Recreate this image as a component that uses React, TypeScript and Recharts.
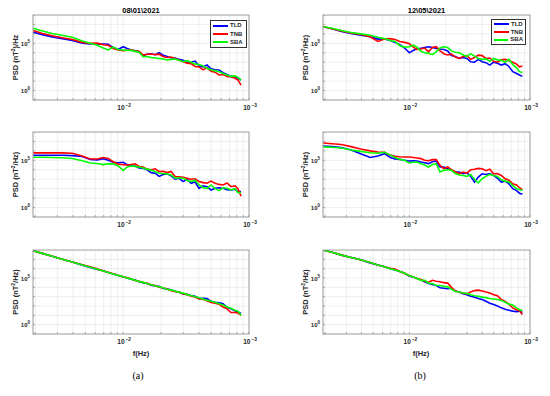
import React from 'react';
import { LineChart, Line, XAxis, YAxis, CartesianGrid, Legend } from 'recharts';

// ---------- data ----------
const FREQ = [0.00193, 0.00228, 0.00273, 0.00328, 0.00394, 0.00473, 0.00547, 0.00622, 0.00694, 0.0076,
  0.00833, 0.00913, 0.01, 0.01076, 0.01157, 0.01245, 0.01339, 0.01441, 0.0155, 0.01668,
  0.01794, 0.0193, 0.02076, 0.02234, 0.02403, 0.02586, 0.02782, 0.02993, 0.0322, 0.03464,
  0.03727, 0.0401, 0.04314, 0.04641, 0.04993, 0.05371, 0.05779, 0.06217, 0.06689, 0.07196,
  0.07741, 0.08181, 0.08646];

const SERIES = ['TLD', 'TNB', 'SBA'];
const COLORS = ['#0000ff', '#ff0000', '#00ff00'];

// log10 of PSD values, panel (a) row 1
const A1_TLD = [6.18, 5.92, 5.68, 5.5, 5.3, 5.0, 4.93, 4.93, 4.93, 4.9, 4.55, 4.35, 4.64, 4.45, 4.3, 4.2, 4.1, 3.7, 3.85, 3.9, 3.8, 4.0, 3.75, 3.6, 3.45, 3.45, 3.3, 3.2, 2.95, 3.0, 3.12, 2.6, 2.5, 2.7, 2.3, 2.2, 2.17, 1.9, 1.7, 1.5, 1.45, 1.3, 1.1];
const A1_TNB = [6.36, 6.05, 5.8, 5.6, 5.4, 5.1, 5.0, 5.02, 4.85, 4.8, 4.45, 4.3, 4.22, 4.28, 4.3, 4.2, 4.15, 3.76, 3.85, 3.87, 3.8, 3.85, 3.6, 3.5, 3.55, 3.4, 3.2, 3.05, 2.9, 2.85, 2.55, 2.5, 2.2, 2.4, 2.05, 1.95, 1.65, 1.7, 1.5, 1.45, 1.3, 1.1, 0.58];
const A1_SBA = [6.6, 6.3, 6.05, 5.85, 5.65, 5.25, 5.0, 4.8, 4.5, 4.3, 4.6, 4.35, 4.29, 4.25, 4.25, 4.15, 4.05, 3.58, 3.6, 3.5, 3.45, 3.4, 3.35, 3.23, 3.3, 3.34, 3.2, 3.05, 3.16, 3.0, 2.8, 2.75, 2.6, 2.35, 2.2, 2.1, 2.0, 1.8, 1.64, 1.5, 1.55, 1.4, 1.11];

// panel (b) row 1
const B1_TLD = [6.76, 6.55, 6.25, 6.05, 5.85, 5.7, 5.45, 5.45, 5.3, 5.1, 4.85, 4.5, 4.0, 4.25, 4.45, 4.47, 4.55, 4.64, 4.55, 4.47, 4.4, 4.35, 4.2, 3.7, 3.6, 3.4, 3.5, 3.4, 3.05, 3.0, 3.3, 3.05, 2.95, 2.7, 3.0, 2.9, 2.7, 2.85, 2.55, 2.0, 1.8, 1.64, 1.5];
const B1_TNB = [6.76, 6.55, 6.3, 6.1, 5.95, 5.7, 5.2, 5.45, 5.5, 5.4, 5.2, 5.1, 4.95, 4.6, 4.35, 4.4, 4.5, 4.1, 4.55, 4.64, 4.2, 3.9, 3.76, 3.85, 3.55, 3.41, 3.6, 3.7, 3.3, 3.5, 3.75, 3.7, 3.4, 3.45, 3.1, 3.0, 3.25, 3.3, 3.15, 3.0, 2.8, 2.5, 2.6];
const B1_SBA = [6.76, 6.6, 6.35, 6.15, 6.0, 5.85, 5.65, 5.5, 5.3, 5.2, 4.75, 4.6, 4.64, 4.8, 4.6, 4.15, 4.0, 3.94, 3.8, 4.1, 4.5, 4.64, 4.55, 4.2, 4.05, 4.0, 3.8, 3.6, 3.9, 3.65, 3.4, 3.3, 3.35, 3.1, 3.4, 3.25, 3.2, 3.0, 3.3, 2.75, 2.4, 2.0, 1.9];

// panel (a) row 2
const A2_TLD = [5.54, 5.54, 5.54, 5.54, 5.5, 5.4, 5.1, 5.05, 5.18, 5.0, 4.8, 4.75, 4.79, 4.55, 4.4, 4.4, 4.2, 4.15, 4.0, 3.7, 3.64, 3.3, 3.5, 3.57, 3.36, 3.0, 3.1, 2.75, 3.0, 2.57, 2.7, 2.04, 2.3, 2.21, 1.86, 2.04, 2.1, 2.04, 1.9, 1.86, 1.95, 1.68, 1.7];
const A2_TNB = [5.79, 5.79, 5.79, 5.79, 5.75, 5.45, 5.14, 5.14, 5.3, 5.2, 4.85, 4.6, 4.54, 4.5, 4.55, 4.64, 4.35, 4.3, 4.07, 4.0, 4.1, 3.82, 3.85, 3.7, 3.82, 3.29, 3.25, 3.21, 3.11, 3.0, 3.05, 2.75, 2.64, 2.57, 2.8, 2.57, 2.45, 2.39, 2.6, 2.21, 2.3, 2.0, 1.2];
const A2_SBA = [5.32, 5.32, 5.3, 5.27, 5.2, 4.95, 4.72, 4.66, 4.55, 4.62, 4.64, 4.4, 3.93, 4.3, 4.4, 4.36, 4.3, 4.18, 4.07, 3.95, 3.82, 3.64, 3.6, 3.57, 3.46, 3.11, 3.15, 3.11, 2.86, 2.75, 2.9, 2.39, 2.1, 2.04, 2.39, 2.0, 1.79, 2.1, 2.04, 1.86, 2.0, 1.57, 1.6];

// panel (b) row 2
const B2_TLD = [6.52, 6.45, 6.35, 6.1, 5.7, 5.3, 5.45, 5.71, 5.3, 5.15, 5.1, 5.0, 4.93, 4.95, 4.93, 4.82, 4.75, 4.65, 4.85, 4.93, 4.29, 4.29, 4.1, 3.94, 3.76, 3.76, 3.58, 3.7, 3.3, 2.7, 3.23, 3.58, 3.5, 3.6, 3.4, 3.1, 2.7, 2.8, 2.52, 2.0, 1.8, 1.52, 1.4];
const B2_TNB = [6.84, 6.76, 6.67, 6.45, 6.2, 6.0, 5.89, 5.85, 5.55, 5.43, 5.38, 5.35, 5.35, 5.3, 5.25, 5.18, 5.0, 4.95, 5.07, 5.07, 4.47, 4.11, 4.3, 4.01, 3.8, 3.58, 3.76, 3.65, 4.0, 4.05, 4.15, 4.11, 3.9, 4.05, 3.58, 3.6, 3.4, 3.05, 2.9, 2.52, 2.4, 2.1, 1.9];
const B2_SBA = [6.42, 6.38, 6.3, 6.1, 5.95, 5.8, 5.75, 5.85, 5.55, 5.3, 5.1, 5.0, 4.72, 4.8, 4.82, 4.65, 4.5, 4.29, 4.55, 4.65, 3.76, 3.94, 4.0, 3.94, 3.6, 3.45, 3.4, 3.3, 3.5, 3.0, 2.62, 3.05, 3.3, 3.51, 3.4, 3.3, 2.94, 2.8, 2.7, 2.34, 2.0, 1.9, 1.8];

// panel (a) row 3
const A3_TLD = [7.92, 7.64, 7.33, 7.02, 6.71, 6.38, 6.12, 5.92, 5.78, 5.6, 5.44, 5.26, 5.13, 5.0, 4.86, 4.78, 4.6, 4.5, 4.42, 4.22, 4.15, 4.1, 3.88, 3.82, 3.74, 3.55, 3.5, 3.3, 3.25, 3.12, 3.05, 2.8, 2.82, 2.8, 2.5, 2.4, 2.35, 2.25, 1.85, 1.7, 1.5, 1.35, 1.2];
const A3_TNB = [7.92, 7.64, 7.33, 7.02, 6.72, 6.42, 6.2, 5.98, 5.75, 5.62, 5.46, 5.3, 5.12, 5.02, 4.9, 4.74, 4.66, 4.52, 4.44, 4.27, 4.2, 4.02, 3.92, 3.85, 3.64, 3.57, 3.5, 3.3, 3.22, 3.05, 2.97, 2.75, 2.72, 2.55, 2.38, 2.3, 2.2, 1.9, 1.7, 1.3, 1.3, 1.25, 1.0];
const A3_SBA = [7.92, 7.64, 7.33, 7.02, 6.71, 6.4, 6.15, 5.94, 5.75, 5.6, 5.44, 5.28, 5.14, 5.0, 4.88, 4.76, 4.63, 4.53, 4.4, 4.28, 4.15, 4.06, 3.93, 3.8, 3.7, 3.6, 3.46, 3.38, 3.22, 3.12, 2.98, 2.88, 2.74, 2.62, 2.5, 2.4, 2.25, 2.1, 1.9, 1.75, 1.55, 1.45, 1.0];

// panel (b) row 3
const B3_TLD = [8.0, 7.75, 7.45, 7.2, 6.95, 6.6, 6.4, 6.2, 6.0, 5.85, 5.7, 5.5, 5.2, 5.1, 4.95, 4.8, 4.6, 4.4, 4.3, 4.2, 3.95, 3.9, 3.85, 3.9, 3.6, 3.5, 3.3, 3.2, 3.05, 2.95, 2.8, 2.7, 2.5, 2.3, 2.15, 2.0, 1.8, 1.65, 1.55, 1.45, 1.4, 1.45, 1.3];
const B3_TNB = [8.0, 7.75, 7.45, 7.2, 6.95, 6.65, 6.4, 6.2, 6.05, 5.95, 5.7, 5.5, 5.25, 5.1, 4.95, 4.85, 4.65, 4.55, 4.75, 4.65, 4.6, 4.5, 4.45, 4.0, 3.6, 3.5, 3.4, 3.3, 3.5, 3.65, 3.7, 3.6, 3.5, 3.4, 3.2, 3.1, 2.7, 2.5, 2.2, 1.8, 1.6, 1.5, 1.1];
const B3_SBA = [8.0, 7.75, 7.45, 7.2, 6.95, 6.65, 6.4, 6.2, 6.0, 5.85, 5.7, 5.5, 5.25, 5.1, 4.95, 4.75, 4.75, 4.45, 4.4, 4.2, 4.2, 4.1, 4.05, 3.8, 3.55, 3.5, 3.4, 3.35, 3.2, 3.1, 3.05, 2.95, 2.9, 2.8, 2.75, 2.7, 2.6, 2.4, 2.2, 2.1, 1.8, 1.6, 1.5];

// axes
const X_DOMAIN = [0.00192, 0.1];
const Y_DOMAIN = [0.1, 1e8];
const X_TICKS = [0.002, 0.003, 0.004, 0.005, 0.006, 0.007, 0.008, 0.009, 0.01, 0.02, 0.03, 0.04, 0.05, 0.06, 0.07, 0.08, 0.09, 0.1];
const Y_TICKS = [0.1, 1, 10, 100, 1000, 1e4, 1e5, 1e6, 1e7, 1e8];
const X_TICK_LABELS = [{ v: 0.01, base: '10', exp: '−2' }, { v: 0.1, base: '10', exp: '−3' }];
const Y_TICK_LABELS = [{ v: 1, base: '10', exp: '0' }, { v: 1e5, base: '10', exp: '5' }];
const TITLES = ['08\\01\\2021', '12\\05\\2021'];
const PANEL_TAGS = ['(a)', '(b)'];

// ---------- layout ----------
const YW = 33;
const RM = 14;
const XH = 14;
const FONT = '"Liberation Sans", Arial, Helvetica, sans-serif';
const INK = '#262626';

const XTick = (props: any) => {
  const { x, y, payload } = props;
  const lab = X_TICK_LABELS.find((t) => t.v === payload.value);
  return (
    <g>
      <line x1={x} x2={x} y1={y} y2={y - 2} stroke="#8c8c8c" strokeWidth={0.7} />
      {lab && (
        <text x={x + 1} y={y + 10} textAnchor="middle" fontSize={6.5} fontWeight="bold" fill={INK}>
          <tspan>{lab.base}</tspan>
          <tspan dx={1} dy={-3} fontSize={4.8}>{lab.exp}</tspan>
        </text>
      )}
    </g>
  );
};

const YTick = (props: any) => {
  const { x, y, payload } = props;
  const lab = Y_TICK_LABELS.find((t) => t.v === payload.value);
  return (
    <g>
      <line x1={x} x2={x + 2} y1={y} y2={y} stroke="#8c8c8c" strokeWidth={0.7} />
      {lab && (
        <text x={x - 3} y={y + 2.5} textAnchor="end" fontSize={6} fontWeight="bold" fill={INK}>
          <tspan>{lab.base}</tspan>
          <tspan dy={-3} fontSize={4.5}>{lab.exp}</tspan>
        </text>
      )}
    </g>
  );
};

const LegendBox = ({ width, height }: { width: number; height: number }) => (
  <div
    style={{
      width,
      height,
      boxSizing: 'border-box',
      border: '0.8px solid #333',
      background: '#fff',
      display: 'flex',
      flexDirection: 'column',
      justifyContent: 'space-evenly',
      padding: '0 2px',
      fontFamily: FONT,
    }}
  >
    {SERIES.map((s, i) => (
      <div key={s} style={{ display: 'flex', alignItems: 'center', height: 7 }}>
        <svg width={15} height={4} style={{ display: 'block' }}>
          <line x1={0} x2={15} y1={2} y2={2} stroke={COLORS[i]} strokeWidth={2} />
        </svg>
        <span style={{ fontSize: 6, fontWeight: 'bold', color: INK, marginLeft: 2, lineHeight: '7px' }}>{s}</span>
      </div>
    ))}
  </div>
);

type PanelProps = {
  left: number;
  top: number;
  w: number;
  h: number;
  values: number[][];
  legend?: { left: number; top: number; width: number; height: number };
};

function Panel({ left, top, w, h, values, legend }: PanelProps) {
  const data = FREQ.map((f, i) => ({
    f,
    TLD: Math.pow(10, values[0][i]),
    TNB: Math.pow(10, values[1][i]),
    SBA: Math.pow(10, values[2][i]),
  }));
  const cw = YW + w + RM;
  const ch = h + XH;
  return (
    <div style={{ position: 'absolute', left: left - YW, top, width: cw, height: ch }}>
      <LineChart width={cw} height={ch} data={data} margin={{ top: 0, right: RM, bottom: 0, left: 0 }}>
        <CartesianGrid stroke="#e8e8e8" strokeWidth={0.7} />
        <XAxis
          dataKey="f"
          type="number"
          scale="log"
          domain={X_DOMAIN}
          allowDataOverflow
          ticks={X_TICKS}
          interval={0}
          tickSize={0}
          tickMargin={0}
          axisLine={false}
          tickLine={false}
          height={XH}
          tick={(p: any) => <XTick {...p} />}
        />
        <YAxis
          type="number"
          scale="log"
          domain={Y_DOMAIN}
          allowDataOverflow
          ticks={Y_TICKS}
          interval={0}
          tickSize={0}
          tickMargin={0}
          axisLine={false}
          tickLine={false}
          width={YW}
          tick={(p: any) => <YTick {...p} />}
        />
        {SERIES.map((s, i) => (
          <Line
            key={s}
            type="linear"
            dataKey={s}
            stroke={COLORS[i]}
            strokeWidth={1.6}
            dot={false}
            isAnimationActive={false}
          />
        ))}
        {legend && (
          <Legend
            layout="vertical"
            align="center"
            verticalAlign="middle"
            wrapperStyle={{ position: 'absolute', left: legend.left, top: legend.top, width: legend.width, height: legend.height }}
            content={() => <LegendBox width={legend.width} height={legend.height} />}
          />
        )}
      </LineChart>
    </div>
  );
}

const COLS = [
  { left: 33, w: 216, labelX: 15, tagX: 138, xlabX: 141 },
  { left: 323, w: 207, labelX: 305, tagX: 420, xlabX: 421 },
];
const ROWS = [
  { top: 15, h: 85 },
  { top: 132, h: 85 },
  { top: 250, h: 84 },
];

export default function App() {
  const grid = [
    [[A1_TLD, A1_TNB, A1_SBA], [B1_TLD, B1_TNB, B1_SBA]],
    [[A2_TLD, A2_TNB, A2_SBA], [B2_TLD, B2_TNB, B2_SBA]],
    [[A3_TLD, A3_TNB, A3_SBA], [B3_TLD, B3_TNB, B3_SBA]],
  ];
  const legends = [
    { left: 210, top: 5, width: 37, height: 28 },
    { left: 201, top: 4, width: 35, height: 26 },
  ];
  return (
    <div
      style={{
        position: 'absolute',
        left: 0,
        top: 0,
        width: 550,
        height: 396,
        background: '#fff',
        fontFamily: FONT,
        overflow: 'hidden',
      }}
    >
      {ROWS.map((r, ri) =>
        COLS.map((c, ci) => (
          <Panel
            key={`${ri}-${ci}`}
            left={c.left}
            top={r.top}
            w={c.w}
            h={r.h}
            values={grid[ri][ci]}
            legend={ri === 0 ? legends[ci] : undefined}
          />
        ))
      )}
      <svg width={550} height={396} style={{ position: 'absolute', left: 0, top: 0, pointerEvents: 'none' }}>
        {ROWS.map((r, ri) =>
          COLS.map((c, ci) => (
            <rect key={`f${ri}-${ci}`} x={c.left} y={r.top} width={c.w} height={r.h} fill="none" stroke="#8c8c8c" strokeWidth={0.8} />
          ))
        )}
        {COLS.map((c, ci) => (
          <text key={`t${ci}`} x={c.left + c.w / 2} y={12.5} textAnchor="middle" fontSize={7.5} fontWeight="bold" fill="#000">
            {TITLES[ci]}
          </text>
        ))}
        {ROWS.map((r, ri) =>
          COLS.map((c, ci) => {
            const cy = r.top + r.h / 2;
            const first = ri === 0 && ci === 0;
            return (
              <text
                key={`y${ri}-${ci}`}
                transform={`translate(${c.labelX + 2.5},${cy}) rotate(-90)`}
                textAnchor="middle"
                fontSize={7.5}
                fontWeight="bold"
                fill={INK}
              >
                <tspan>PSD (nT</tspan>
                <tspan dy={-2.5} fontSize={5}>2</tspan>
                <tspan dy={2.5}>{first ? ')/Hz' : '/Hz)'}</tspan>
              </text>
            );
          })
        )}
        {COLS.map((c, ci) => (
          <text key={`x${ci}`} x={c.xlabX} y={356} textAnchor="middle" fontSize={7.5} fontWeight="bold" fill={INK}>
            f(Hz)
          </text>
        ))}
        {COLS.map((c, ci) => (
          <text
            key={`g${ci}`}
            x={c.tagX}
            y={379}
            textAnchor="middle"
            fontSize={10}
            fill="#000"
            style={{ fontFamily: '"Liberation Serif", "Times New Roman", serif' }}
          >
            {PANEL_TAGS[ci]}
          </text>
        ))}
      </svg>
    </div>
  );
}
